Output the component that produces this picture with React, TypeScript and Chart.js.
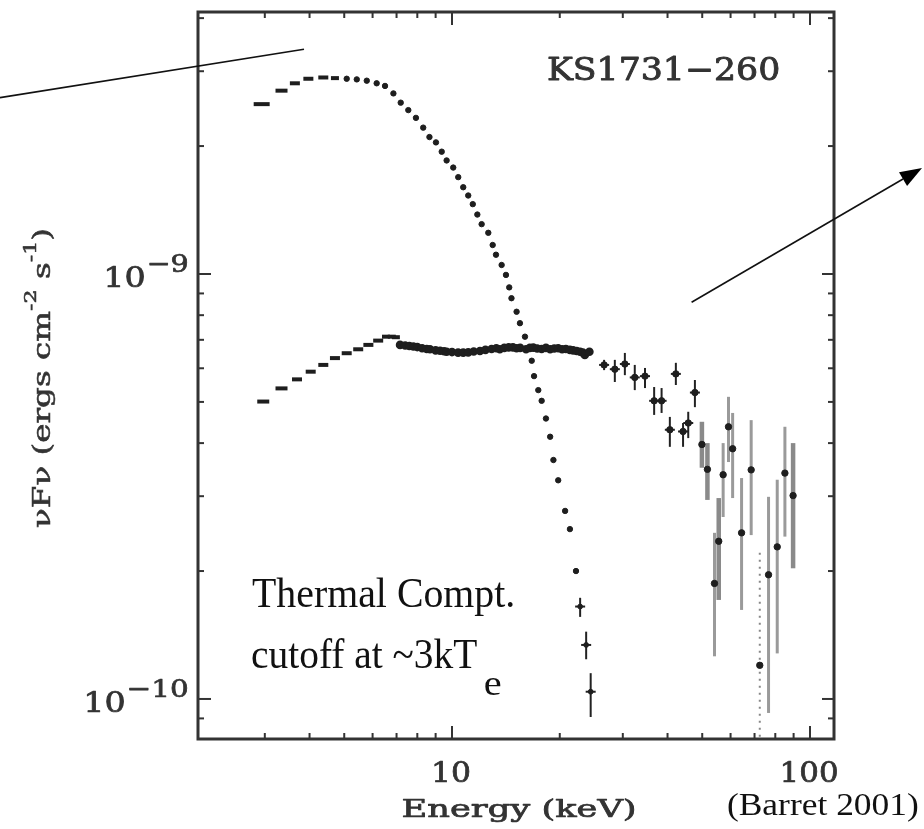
import { useEffect, useRef } from "react";
import { Chart, registerables } from "chart.js";

Chart.register(...registerables);

// ---------------- data ----------------
// fluxes are given in units of 1e-9 erg cm^-2 s^-1
const FLUX_UNIT = 1e-9;

const xRange = [1.952, 116.7]; // keV
const yRange = [8.05e-11, 4.135e-9]; // erg cm^-2 s^-1

const xMajorTicks = [10, 100];
const xTickLabels = ["10", "100"];
const xMinorTicks = [3, 4, 5, 6, 7, 8, 9, 20, 30, 40, 50, 60, 70, 80, 90];
const yMajorTicks = [1e-10, 1e-9];
const yTickBase = ["10", "10"];
const yTickExponents = ["\u221210", "\u22129"];
const yMinorTicks = [9e-11, 2e-10, 3e-10, 4e-10, 5e-10, 6e-10, 7e-10, 8e-10, 9e-10, 2e-9, 3e-9, 4e-9];

// soft (thermal Comptonization, low kTe) spectrum
const softEnergy = [2.94, 3.34, 3.64, 3.97, 4.37, 4.71, 5.08, 5.42, 5.78, 6.16, 6.5, 6.86, 7.19, 7.55, 7.93, 8.31, 8.65, 9.02, 9.36, 9.66, 10.08, 10.41, 10.75, 11.1, 11.43, 11.77, 12.1, 12.63, 12.99, 13.27, 13.76, 14.15, 14.45, 14.66, 15.15, 15.48, 15.99, 16.7, 16.95, 17.42, 17.8, 18.3, 18.8, 19.2, 19.8, 20.7, 21.35, 22.2];
const softFlux = [2.51, 2.7, 2.81, 2.88, 2.9, 2.89, 2.88, 2.87, 2.85, 2.81, 2.77, 2.66, 2.53, 2.43, 2.33, 2.21, 2.1, 2.04, 1.94, 1.85, 1.78, 1.69, 1.6, 1.53, 1.46, 1.38, 1.31, 1.25, 1.17, 1.11, 1.05, 0.995, 0.93, 0.877, 0.815, 0.766, 0.712, 0.625, 0.575, 0.533, 0.503, 0.457, 0.414, 0.365, 0.327, 0.277, 0.251, 0.2];
const softTailEnergy = [22.8, 23.7, 24.4];
const softTailFlux = [0.165, 0.134, 0.104];
const softTailLow = [0.156, 0.124, 0.0907];
const softTailHigh = [0.173, 0.144, 0.115];

// hard state spectrum
const hardLowEnergy = [2.97, 3.34, 3.69, 4.03, 4.37, 4.71, 5.08, 5.47, 5.84, 6.22, 6.54, 6.79, 6.97];
const hardLowFlux = [0.501, 0.538, 0.565, 0.589, 0.611, 0.634, 0.651, 0.665, 0.681, 0.697, 0.712, 0.712, 0.71];
const hardBandEnergy = [7.16, 7.4, 7.6, 7.8, 8.0, 8.25, 8.5, 8.68, 9.0, 9.26, 9.5, 9.66, 10.0, 10.4, 10.75, 11.1, 11.5, 11.97, 12.4, 12.9, 13.3, 13.6, 14.0, 14.4, 14.8, 15.15, 15.5, 16.1, 16.5, 16.87, 17.3, 17.8, 18.3, 18.8, 19.3, 19.8, 20.3, 20.8, 21.35, 21.8, 22.3, 22.8, 23.2, 23.5, 24.2];
const hardBandFlux = [0.681, 0.679, 0.677, 0.675, 0.673, 0.669, 0.666, 0.665, 0.661, 0.66, 0.658, 0.656, 0.655, 0.653, 0.653, 0.654, 0.657, 0.659, 0.663, 0.666, 0.669, 0.665, 0.67, 0.672, 0.672, 0.669, 0.67, 0.665, 0.67, 0.671, 0.668, 0.666, 0.67, 0.665, 0.668, 0.669, 0.665, 0.666, 0.663, 0.661, 0.659, 0.656, 0.653, 0.645, 0.656];
const hardHighEnergy = [26.6, 28.5, 30.4, 32.4, 34.6, 36.7, 38.5, 40.6, 42.2, 44.2, 45.7, 47.7, 49.9, 51.7, 54.1, 55.6, 57.2, 59.2, 60.8, 64.4, 68.5, 72.4, 76.6, 81.0, 85.1, 89.7];
const hardHighFlux = [0.611, 0.597, 0.614, 0.571, 0.575, 0.503, 0.503, 0.43, 0.582, 0.426, 0.446, 0.526, 0.397, 0.347, 0.187, 0.235, 0.337, 0.437, 0.388, 0.246, 0.346, 0.12, 0.196, 0.228, 0.34, 0.301];
const hardHighLow = [0.594, 0.557, 0.578, 0.533, 0.539, 0.466, 0.471, 0.392, 0.548, 0.392, 0.411, 0.486, 0.35, 0.294, 0.126, 0.171, 0.268, 0.361, 0.297, 0.162, 0.243, 0.07, 0.0927, 0.128, 0.241, 0.203];
const hardHighHigh = [0.628, 0.628, 0.652, 0.611, 0.601, 0.542, 0.539, 0.461, 0.618, 0.446, 0.474, 0.563, 0.449, 0.4, 0.246, 0.297, 0.4, 0.514, 0.471, 0.331, 0.453, 0.227, 0.299, 0.328, 0.437, 0.4];

// annotation lines (data coordinates: keV, 1e-9 flux units)
const pointerEnergy = [0.546, 3.86];
const pointerFlux = [2.6, 3.38];
const arrowEnergy = [46.7, 205.6];
const arrowFlux = [0.858, 1.776];

// ---------------- styles ----------------
const INK = "#1e1e1e";
const AXIS = "#333333";
const TYPE_FONT = "'DejaVu Serif'";
const TYPE_WEIGHT = "normal";
const TYPE_STROKE = 0.7;
const SLIDE_FONT = "'Liberation Serif'";
const softDashRadius = [8, 6, 5, 5, 5, 4];
const hardDashRadius = [6, 6, 5, 5, 5, 5, 5, 5, 5, 5, 4, 4, 4];
const hardHighBarKind = ["t", "t", "t", "t", "t", "t", "t", "t", "t", "t", "t", "t", "T", "T", "m", "T", "m", "m", "m", "m", "m", "d", "m", "m", "m", "T"];

const pts = (e: number[], f: number[]) => e.map((x, i) => ({ x, y: f[i] * FLUX_UNIT }));

function fontPx(ctx: CanvasRenderingContext2D, family: string, weight: string, cap: number) {
  ctx.font = `${weight} 100px ${family}`;
  const m = ctx.measureText("H");
  return (cap * 100) / (m.actualBoundingBoxAscent || 72);
}

function fitText(
  ctx: CanvasRenderingContext2D,
  text: string,
  family: string,
  weight: string,
  cap: number,
  left: number,
  right: number,
  baseline: number,
  color: string,
  stroke = 0
) {
  const px = fontPx(ctx, family, weight, cap);
  ctx.font = `${weight} ${px}px ${family}`;
  ctx.textAlign = "left";
  ctx.textBaseline = "alphabetic";
  const m = ctx.measureText(text);
  const w = m.actualBoundingBoxLeft + m.actualBoundingBoxRight;
  const s = (right - left) / w;
  ctx.save();
  ctx.translate(left, baseline);
  ctx.scale(s, 1);
  ctx.fillStyle = color;
  ctx.fillText(text, m.actualBoundingBoxLeft, 0);
  if (stroke > 0) {
    ctx.strokeStyle = color;
    ctx.lineWidth = stroke;
    ctx.lineJoin = "round";
    ctx.setLineDash([]);
    ctx.strokeText(text, m.actualBoundingBoxLeft, 0);
  }
  ctx.restore();
}

const decorPlugin = {
  id: "ksDecor",
  beforeDatasetsDraw(chart: any) {
    const { ctx, chartArea: a } = chart;
    const xs = chart.scales.x;
    const ys = chart.scales.y;
    ctx.save();
    ctx.beginPath();
    ctx.rect(a.left, a.top, a.right - a.left, a.bottom - a.top);
    ctx.clip();
    chart.data.datasets.forEach((ds: any) => {
      if (!ds.errLow) return;
      ds.data.forEach((p: any, i: number) => {
        const kind = ds.barKind ? ds.barKind[i] : "t";
        const px = xs.getPixelForValue(p.x);
        const y1 = ys.getPixelForValue(ds.errLow[i] * FLUX_UNIT);
        const y2 = ys.getPixelForValue(ds.errHigh[i] * FLUX_UNIT);
        ctx.setLineDash([]);
        if (kind === "t") {
          ctx.strokeStyle = "#222";
          ctx.lineWidth = 2;
        } else if (kind === "T") {
          ctx.strokeStyle = "#8a8a8a";
          ctx.lineWidth = 4.5;
        } else if (kind === "m") {
          ctx.strokeStyle = "#9a9a9a";
          ctx.lineWidth = 3;
        } else {
          ctx.strokeStyle = "#888";
          ctx.lineWidth = 2;
          ctx.setLineDash([2, 5]);
        }
        ctx.beginPath();
        ctx.moveTo(px, y1);
        ctx.lineTo(px, y2);
        ctx.stroke();
        if (kind === "t") {
          const py = ys.getPixelForValue(p.y);
          ctx.beginPath();
          ctx.moveTo(px - 5, py);
          ctx.lineTo(px + 5, py);
          ctx.stroke();
        }
      });
    });
    ctx.restore();
  },
  afterDraw(chart: any) {
    const { ctx, chartArea: a } = chart;
    const xs = chart.scales.x;
    const ys = chart.scales.y;
    ctx.save();
    // frame
    ctx.setLineDash([]);
    ctx.strokeStyle = AXIS;
    ctx.lineWidth = 3;
    ctx.strokeRect(a.left, a.top, a.right - a.left, a.bottom - a.top);
    // inward ticks on all sides
    ctx.lineWidth = 2;
    const seg = (x1: number, y1: number, x2: number, y2: number) => {
      ctx.beginPath();
      ctx.moveTo(x1, y1);
      ctx.lineTo(x2, y2);
      ctx.stroke();
    };
    xMajorTicks.forEach((v) => {
      const px = xs.getPixelForValue(v);
      seg(px, a.bottom, px, a.bottom - 13);
      seg(px, a.top, px, a.top + 13);
    });
    xMinorTicks.forEach((v) => {
      const px = xs.getPixelForValue(v);
      seg(px, a.bottom, px, a.bottom - 6);
      seg(px, a.top, px, a.top + 6);
    });
    yMajorTicks.forEach((v) => {
      const py = ys.getPixelForValue(v);
      seg(a.left, py, a.left + 13, py);
      seg(a.right, py, a.right - 12, py);
    });
    yMinorTicks.forEach((v) => {
      const py = ys.getPixelForValue(v);
      seg(a.left, py, a.left + 6, py);
      seg(a.right, py, a.right - 6, py);
    });

    // x tick labels
    xMajorTicks.forEach((v, i) => {
      const px = xs.getPixelForValue(v);
      const w = 19 * xTickLabels[i].length - 3;
      fitText(ctx, xTickLabels[i], TYPE_FONT, TYPE_WEIGHT, 20, px - w / 2, px + w / 2, 782, AXIS, TYPE_STROKE);
    });
    // y tick labels with superscript exponents
    yMajorTicks.forEach((v, i) => {
      const py = ys.getPixelForValue(v);
      const supRight = 188;
      const supW = 20 * yTickExponents[i].length - 1;
      fitText(ctx, yTickExponents[i], TYPE_FONT, TYPE_WEIGHT, 18, supRight - supW, supRight, py - 2, AXIS, TYPE_STROKE);
      const baseRight = supRight - supW - 5;
      fitText(ctx, yTickBase[i], TYPE_FONT, TYPE_WEIGHT, 20, baseRight - 37, baseRight, py + 13.5, AXIS, TYPE_STROKE);
    });

    // x axis title
    fitText(ctx, "Energy (keV)", TYPE_FONT, TYPE_WEIGHT, 17, 403, 635, 817, AXIS, TYPE_STROKE);

    // y axis title (rotated, with superscripts)
    {
      const mainPx = fontPx(ctx, TYPE_FONT, TYPE_WEIGHT, 17);
      const supPx = mainPx * 0.68;
      const pieces: [string, boolean][] = [
        ["\u03bdF\u03bd (ergs cm", false],
        ["-2", true],
        [" s", false],
        ["-1", true],
        [")", false],
      ];
      let total = 0;
      const widths = pieces.map(([t, sup]) => {
        ctx.font = `${TYPE_WEIGHT} ${sup ? supPx : mainPx}px ${TYPE_FONT}`;
        const w = ctx.measureText(t).width;
        total += w;
        return w;
      });
      const s = 300 / total;
      ctx.save();
      ctx.translate(50, 528);
      ctx.rotate(-Math.PI / 2);
      ctx.scale(s, 1);
      ctx.fillStyle = AXIS;
      ctx.strokeStyle = AXIS;
      ctx.lineWidth = 0.5;
      ctx.textAlign = "left";
      ctx.textBaseline = "alphabetic";
      let x = 0;
      pieces.forEach(([t, sup], i) => {
        ctx.font = `${TYPE_WEIGHT} ${sup ? supPx : mainPx}px ${TYPE_FONT}`;
        ctx.fillText(t, x, sup ? -14 : 0);
        ctx.strokeText(t, x, sup ? -14 : 0);
        x += widths[i];
      });
      ctx.restore();
    }

    // source name
    fitText(ctx, "KS1731\u2212260", TYPE_FONT, TYPE_WEIGHT, 23, 548, 778, 80, AXIS, 0.9);

    // slide annotations
    fitText(ctx, "Thermal Compt.", SLIDE_FONT, "normal", 27, 252, 513, 607, "#111");
    fitText(ctx, "cutoff at ~3kT", SLIDE_FONT, "normal", 27, 252, 477, 668, "#111");
    fitText(ctx, "e", SLIDE_FONT, "normal", 23, 485, 501, 695, "#111");
    fitText(ctx, "(Barret 2001)", SLIDE_FONT, "normal", 21, 728, 918, 815, "#111");

    // pointer line (upper left)
    ctx.strokeStyle = "#111";
    ctx.lineWidth = 1.6;
    const p0x = xs.getPixelForValue(pointerEnergy[0]);
    const p0y = ys.getPixelForValue(pointerFlux[0] * FLUX_UNIT);
    const p1x = xs.getPixelForValue(pointerEnergy[1]);
    const p1y = ys.getPixelForValue(pointerFlux[1] * FLUX_UNIT);
    seg(p0x, p0y, p1x, p1y);

    // arrow (right)
    const a0x = xs.getPixelForValue(arrowEnergy[0]);
    const a0y = ys.getPixelForValue(arrowFlux[0] * FLUX_UNIT);
    const a1x = xs.getPixelForValue(arrowEnergy[1]);
    const a1y = ys.getPixelForValue(arrowFlux[1] * FLUX_UNIT);
    const ang = Math.atan2(a1y - a0y, a1x - a0x);
    const headLen = 22;
    const headHalf = 8;
    const bx = a1x - headLen * Math.cos(ang);
    const by = a1y - headLen * Math.sin(ang);
    seg(a0x, a0y, bx, by);
    ctx.fillStyle = "#000";
    ctx.beginPath();
    ctx.moveTo(a1x, a1y);
    ctx.lineTo(bx + headHalf * Math.sin(ang), by - headHalf * Math.cos(ang));
    ctx.lineTo(bx - headHalf * Math.sin(ang), by + headHalf * Math.cos(ang));
    ctx.closePath();
    ctx.fill();

    ctx.restore();
  },
};

export default function App() {
  const ref = useRef<HTMLCanvasElement>(null);
  useEffect(() => {
    if (!ref.current) return;
    const dash = (radii: number[], other: number) => (c: any) =>
      c.dataIndex < radii.length ? radii[c.dataIndex] : other;
    const chart = new Chart(ref.current, {
      type: "scatter",
      data: {
        datasets: [
          {
            label: "soft state",
            data: pts(softEnergy, softFlux),
            pointStyle: ((c: any) => (c.dataIndex < softDashRadius.length ? "line" : "circle")) as any,
            pointRadius: dash(softDashRadius, 2.7) as any,
            pointBorderWidth: ((c: any) => (c.dataIndex < softDashRadius.length ? 4 : 1)) as any,
            pointBackgroundColor: INK,
            pointBorderColor: INK,
          },
          {
            label: "soft state tail",
            data: pts(softTailEnergy, softTailFlux),
            errLow: softTailLow,
            errHigh: softTailHigh,
            pointRadius: 2.4,
            pointBackgroundColor: INK,
            pointBorderColor: INK,
          } as any,
          {
            label: "hard state (low E)",
            data: pts(hardLowEnergy, hardLowFlux),
            pointStyle: "line",
            pointRadius: dash(hardDashRadius, 4) as any,
            pointBorderWidth: 4,
            pointBackgroundColor: INK,
            pointBorderColor: INK,
          },
          {
            label: "hard state (band)",
            data: pts(hardBandEnergy, hardBandFlux),
            showLine: true,
            borderColor: INK,
            borderWidth: 4,
            pointRadius: 2.3,
            pointBackgroundColor: INK,
            pointBorderColor: INK,
          },
          {
            label: "hard state (high E)",
            data: pts(hardHighEnergy, hardHighFlux),
            errLow: hardHighLow,
            errHigh: hardHighHigh,
            barKind: hardHighBarKind,
            pointRadius: 3.2,
            pointBackgroundColor: INK,
            pointBorderColor: INK,
          } as any,
        ],
      },
      options: {
        animation: false,
        responsive: false,
        maintainAspectRatio: false,
        devicePixelRatio: 1,
        events: [],
        layout: { padding: { left: 198, top: 12, right: 90, bottom: 90 } },
        scales: {
          x: { type: "logarithmic", min: xRange[0], max: xRange[1], display: false },
          y: { type: "logarithmic", min: yRange[0], max: yRange[1], display: false },
        },
        plugins: {
          legend: { display: false },
          tooltip: { enabled: false },
        },
      },
      plugins: [decorPlugin],
    });
    return () => chart.destroy();
  }, []);
  return (
    <div style={{ position: "absolute", left: 0, top: 0, width: 924, height: 829, background: "#fff" }}>
      <canvas ref={ref} width={924} height={829} style={{ display: "block" }} />
    </div>
  );
}
